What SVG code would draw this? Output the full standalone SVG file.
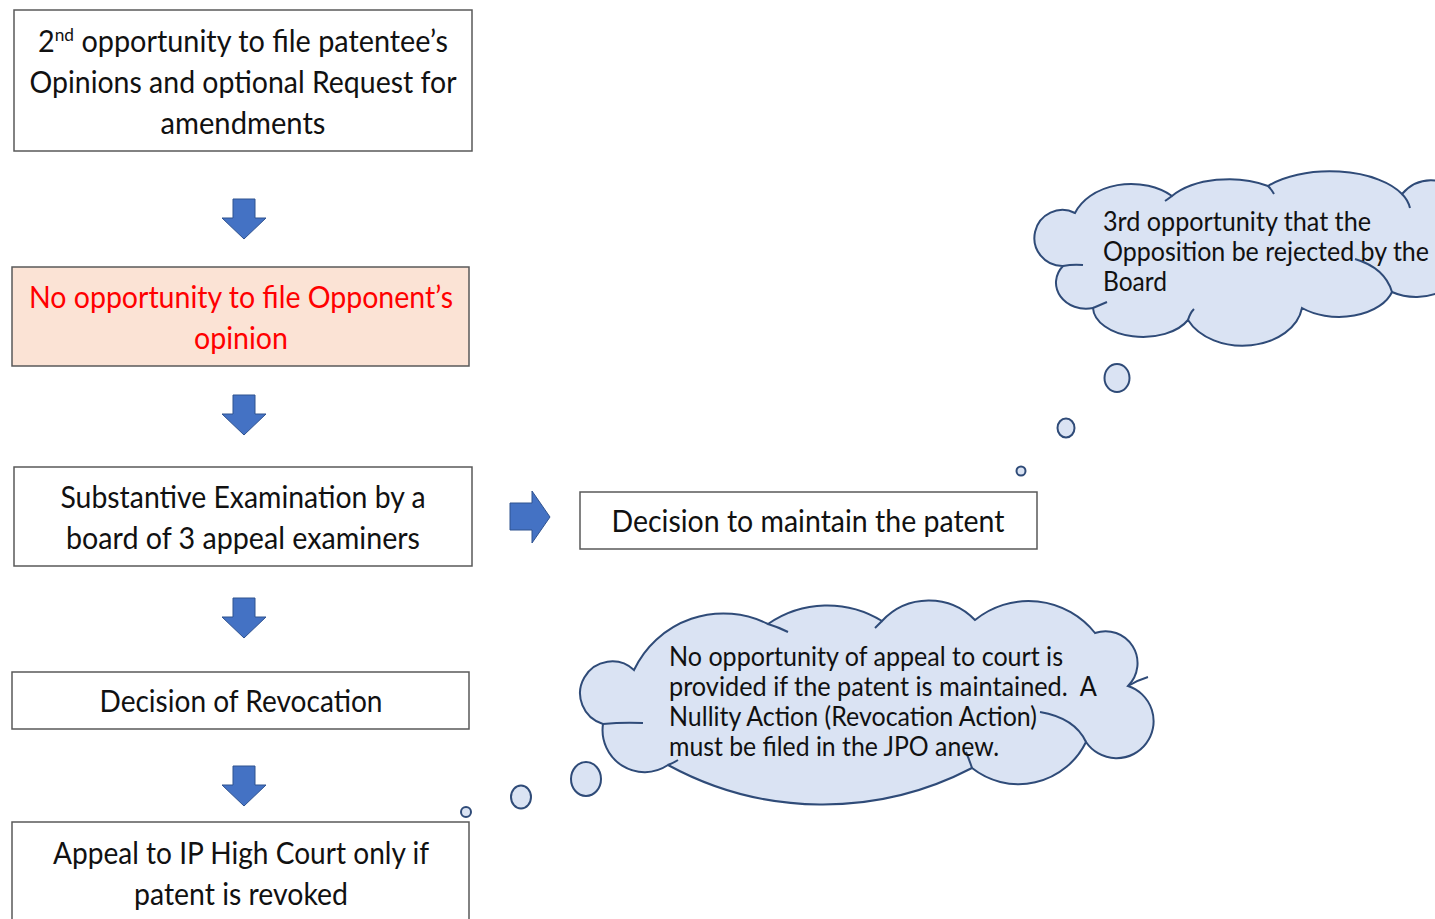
<svg xmlns="http://www.w3.org/2000/svg" width="1435" height="919" viewBox="0 0 1435 919">
<defs>
<style>
.box{fill:#ffffff;stroke:#595959;stroke-width:1.5}
.peach{fill:#fbe3d5;stroke:#595959;stroke-width:1.5}
.t{font-family:Lato,"Noto Sans","Liberation Sans",sans-serif;font-size:30px;fill:#111}
.red{fill:#ff0000}
.c{text-anchor:middle}
.ct{font-family:Lato,"Noto Sans","Liberation Sans",sans-serif;font-size:26px;fill:#111}
.arr{fill:#4472c4;stroke:#2f528f;stroke-width:1}
.cloud{fill:#dae3f3;stroke:#2f4b78;stroke-width:2}
.inner{fill:none;stroke:#2f4b78;stroke-width:2}
</style>
<path id="dn" d="M -11,0 H 11 V 19 H 22 L 0,40 L -22,19 H -11 Z"/>
</defs>

<g id="connectors">
<use href="#dn" class="arr" x="244" y="199"/>
<use href="#dn" class="arr" x="244" y="395"/>
<use href="#dn" class="arr" x="244" y="598"/>
<use href="#dn" class="arr" x="244" y="766"/>
<path class="arr" d="M 510,503 H 532 V 491 L 550,517 L 532,543 V 530 H 510 Z"/>
</g>

<g id="n1">
<rect class="box" x="14" y="10" width="458" height="141"/>
<text class="t c" x="243" y="52" textLength="410" lengthAdjust="spacingAndGlyphs">2<tspan font-size="18" dy="-11">nd</tspan><tspan dy="11"> opportunity to file patentee’s</tspan></text>
<text class="t c" x="243" y="93" textLength="427" lengthAdjust="spacingAndGlyphs">Opinions and optional Request for</text>
<text class="t c" x="243" y="134" textLength="165" lengthAdjust="spacingAndGlyphs">amendments</text>
</g>

<g id="n2">
<rect class="peach" x="12" y="267" width="457" height="99"/>
<text class="t c red" x="241" y="308" textLength="424" lengthAdjust="spacingAndGlyphs">No opportunity to file Opponent’s</text>
<text class="t c red" x="241" y="349" textLength="94" lengthAdjust="spacingAndGlyphs">opinion</text>
</g>

<g id="n3">
<rect class="box" x="14" y="467" width="458" height="99"/>
<text class="t c" x="243" y="508" textLength="365" lengthAdjust="spacingAndGlyphs">Substantive Examination by a</text>
<text class="t c" x="243" y="549" textLength="354" lengthAdjust="spacingAndGlyphs">board of 3 appeal examiners</text>
</g>

<g id="n4">
<rect class="box" x="580" y="492" width="457" height="57"/>
<text class="t c" x="808" y="532" textLength="393" lengthAdjust="spacingAndGlyphs">Decision to maintain the patent</text>
</g>

<g id="n5">
<rect class="box" x="12" y="672" width="457" height="57"/>
<text class="t c" x="241" y="712" textLength="283" lengthAdjust="spacingAndGlyphs">Decision of Revocation</text>
</g>

<g id="n6">
<rect class="box" x="12" y="822" width="457" height="110"/>
<text class="t c" x="241" y="864" textLength="376" lengthAdjust="spacingAndGlyphs">Appeal to IP High Court only if</text>
<text class="t c" x="241" y="905" textLength="214" lengthAdjust="spacingAndGlyphs">patent is revoked</text>
</g>

<g id="cloud1">
<path class="cloud" d="M 1075,213 A 60 45 0 0 1 1172,196 A 70 40 0 0 1 1268,186 A 80 40 0 0 1 1402,194 A 40 45 0 0 1 1460,258 A 45 32 0 0 1 1392,292 A 55 34 0 0 1 1302,308 A 60 44 0 0 1 1188,320 A 50 30 0 0 1 1093,308 A 30 26 0 0 1 1063,266 A 28 28 0 1 1 1075,213 Z"/>
<path class="inner" d="M 1063,266 Q 1073,264 1083,265 M 1093,308 Q 1100,305 1107,302 M 1188,320 Q 1190,313 1194,309 M 1355,259 Q 1385,268 1392,292 M 1402,194 Q 1408,200 1410,208 M 1172,196 Q 1168,199 1165,201 M 1268,186 Q 1272,190 1274,194"/>
<text class="ct" x="1103" y="231" textLength="268" lengthAdjust="spacingAndGlyphs">3rd opportunity that the</text>
<text class="ct" x="1103" y="261" textLength="326" lengthAdjust="spacingAndGlyphs">Opposition be rejected by the</text>
<text class="ct" x="1103" y="291" textLength="64" lengthAdjust="spacingAndGlyphs">Board</text>
<ellipse class="cloud" cx="1117" cy="378" rx="12.5" ry="14"/>
<ellipse class="cloud" cx="1066" cy="428" rx="8.5" ry="9.5"/>
<ellipse class="cloud" cx="1021" cy="471" rx="4.5" ry="4.5"/>
</g>

<g id="cloud2">
<path class="cloud" d="M 634,670 A 99 99 0 0 1 768,624 A 104 104 0 0 1 882,621 A 64 64 0 0 1 975,620 A 85 85 0 0 1 1095,633 A 32 32 0 0 1 1128,686 A 37 37 0 1 1 1086,742 A 75 75 0 0 1 972,768 A 323 323 0 0 1 668,765 A 42 42 0 0 1 603,724 A 32 32 0 1 1 634,670 Z"/>
<path class="inner" d="M 603,724 Q 623,722 643,723 M 768,624 Q 778,627 788,632 M 1128,686 Q 1138,680 1148,677 M 1040,712 Q 1075,718 1086,742 M 972,768 Q 969,759 966,752 M 668,765 Q 673,763 678,760 M 882,621 Q 878,625 875,628"/>
<text class="ct" x="669" y="666" textLength="394" lengthAdjust="spacingAndGlyphs">No opportunity of appeal to court is</text>
<text class="ct" x="669" y="696" textLength="428" lengthAdjust="spacingAndGlyphs" xml:space="preserve">provided if the patent is maintained.  A</text>
<text class="ct" x="669" y="726" textLength="368" lengthAdjust="spacingAndGlyphs">Nullity Action (Revocation Action)</text>
<text class="ct" x="669" y="756" textLength="330" lengthAdjust="spacingAndGlyphs">must be filed in the JPO anew.</text>
<ellipse class="cloud" cx="586" cy="779" rx="15" ry="17"/>
<ellipse class="cloud" cx="521" cy="797" rx="10" ry="11.5"/>
<ellipse class="cloud" cx="466" cy="812" rx="5" ry="5"/>
</g>
</svg>
